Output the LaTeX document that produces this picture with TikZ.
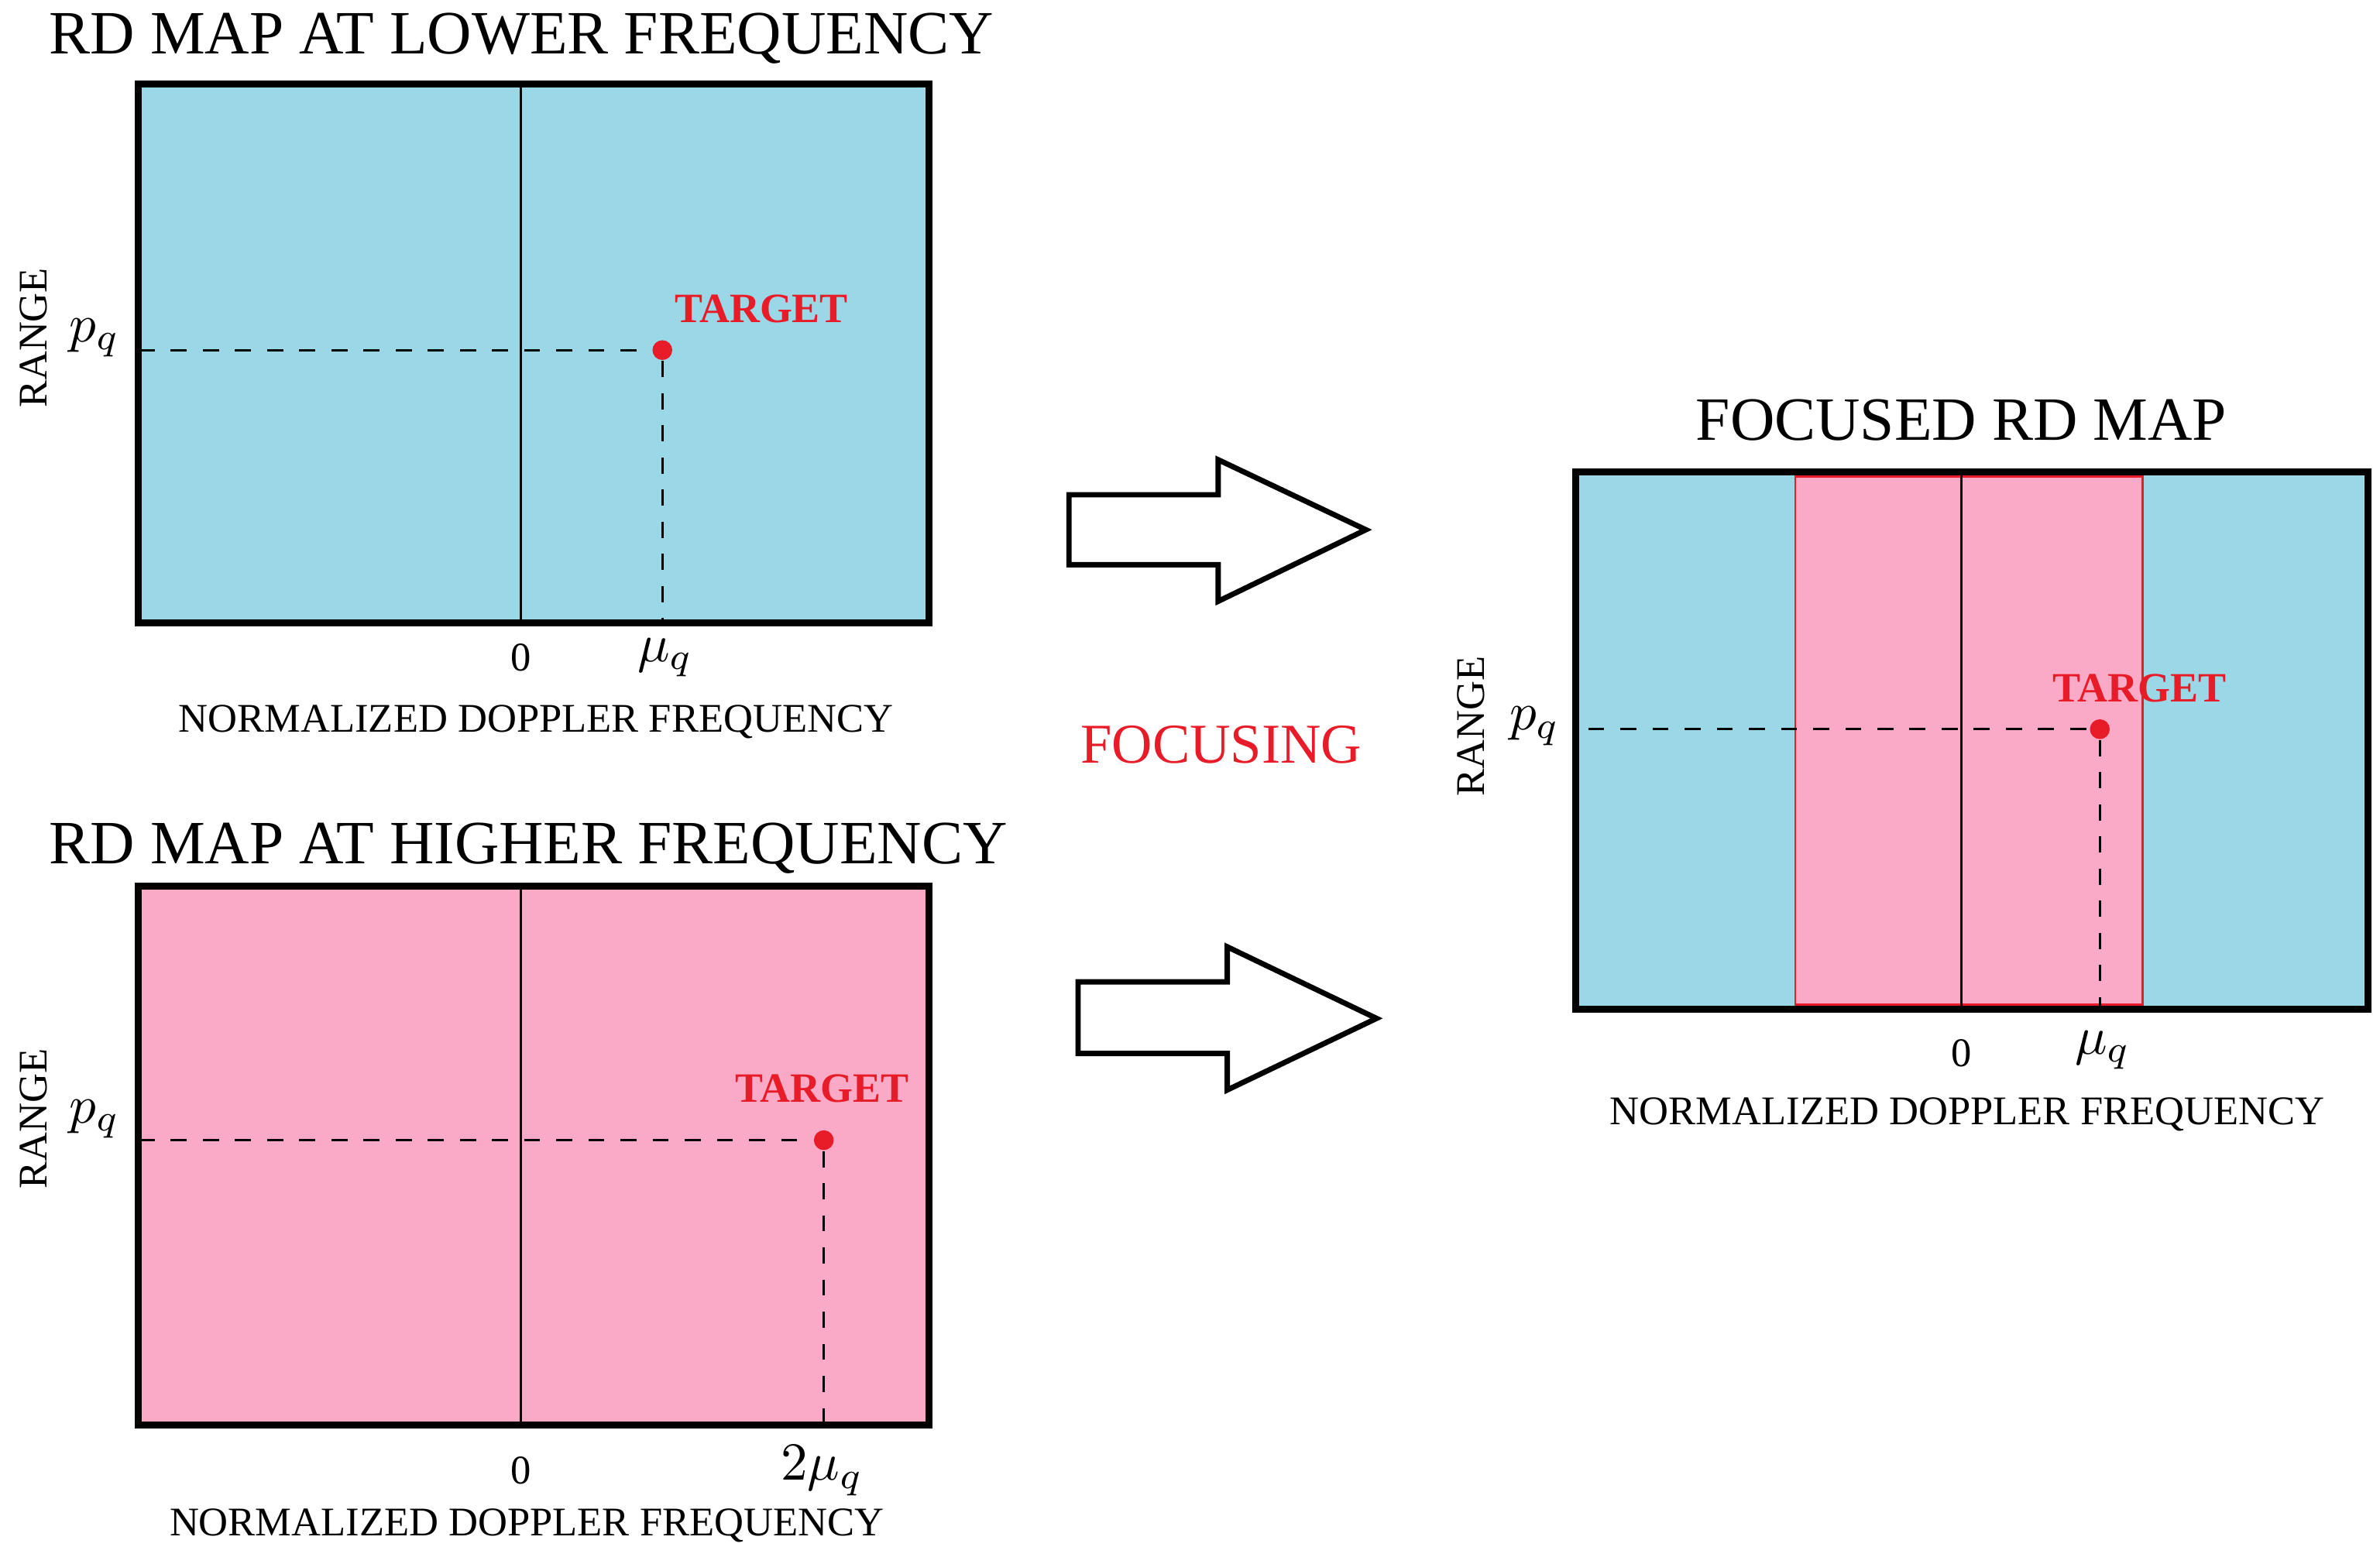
\documentclass[tikz,border=0pt]{standalone}
\usepackage{fontspec}
\setmainfont{Liberation Serif}
\usepackage{amsmath}
\usetikzlibrary{arrows,positioning}
\definecolor{mapblue}{RGB}{154,216,232}
\definecolor{mappink}{RGB}{250,170,198}
\definecolor{tgtred}{RGB}{232,28,40}
\tikzset{
  title/.style = {anchor = west, font = \fontsize{11.5}{13}\selectfont},
  axis/.style = {font = \fontsize{7.6}{9}\selectfont},
  target/.style = {text = tgtred, font = \fontsize{7.8}{9}\selectfont\bfseries},
  dot/.style = {circle, fill = tgtred, inner sep = 0pt, minimum size = 0.13cm},
  guide/.style = {dashed, thin},
  bigarrow/.style = {draw, line width = 1pt, fill = white}
}
\begin{document}
\begin{tikzpicture}[x = 0.01cm, y = -0.01cm]
\useasboundingbox (0, 0) rectangle (1563, 1027);
%\draw [help lines, step = 100] (0, 0) grid (1563, 1027);
% lower frequency
\node [title] (t1) at (20, 25) {RD MAP AT LOWER FREQUENCY};
\draw [line width = 1.3pt, fill = mapblue] (91, 55) rectangle (610, 409);
\draw (342, 55) -- (342, 409);
\node [dot] (d1) at (435, 230) {};
\draw [guide] (91, 230) -- (d1);
\draw [guide] (d1) -- (435, 409);
\node [target] at (500, 203) {TARGET};
\node [axis, rotate = 90] at (22, 222) {RANGE};
\node [font = \fontsize{10}{12}\selectfont] at (62, 222) {$p_q$};
\node [axis] at (342, 432) {0};
\node [font = \fontsize{10}{12}\selectfont] at (437, 432) {$\mu_q$};
\node [axis] at (352, 474) {NORMALIZED DOPPLER FREQUENCY};
% higher frequency
\node [title] (t2) at (20, 557) {RD MAP AT HIGHER FREQUENCY};
\draw [line width = 1.3pt, fill = mappink] (91, 582) rectangle (610, 936);
\draw (342, 582) -- (342, 936);
\node [dot] (d2) at (541, 749) {};
\draw [guide] (91, 749) -- (d2);
\draw [guide] (d2) -- (541, 936);
\node [target] at (540, 715) {TARGET};
\node [axis, rotate = 90] at (22, 735) {RANGE};
\node [font = \fontsize{10}{12}\selectfont] at (62, 735) {$p_q$};
\node [axis] at (342, 966) {0};
\node [font = \fontsize{10}{12}\selectfont] at (540, 966) {$2\mu_q$};
\node [axis] at (346, 1002) {NORMALIZED DOPPLER FREQUENCY};
% focused
\node [title, anchor = center] (t3) at (1288, 276) {FOCUSED RD MAP};
\draw [line width = 1.3pt, fill = mapblue] (1035, 310) rectangle (1555, 663);
\draw [draw = tgtred, fill = mappink] (1179, 313) rectangle (1407, 660);
\draw (1288, 310) -- (1288, 663);
\node [dot] (d3) at (1379, 479) {};
\draw [guide] (1043, 479) -- (d3);
\draw [guide] (d3) -- (1379, 663);
\node [target] at (1405, 452) {TARGET};
\node [axis, rotate = 90] at (966, 477) {RANGE};
\node [font = \fontsize{10}{12}\selectfont] at (1008, 477) {$p_q$};
\node [axis] at (1288, 692) {0};
\node [font = \fontsize{10}{12}\selectfont] at (1381, 690) {$\mu_q$};
\node [axis] at (1292, 732) {NORMALIZED DOPPLER FREQUENCY};
% arrows
\draw [bigarrow] (702, 325) -- (800, 325) -- (800, 302) -- (897, 348)
  -- (800, 395) -- (800, 371) -- (702, 371) -- cycle;
\draw [bigarrow] (708, 645) -- (806, 645) -- (806, 622) -- (904, 669)
  -- (806, 716) -- (806, 692) -- (708, 692) -- cycle;
\node [text = tgtred, font = \fontsize{10.5}{12}\selectfont] (foc) at (802, 489) {FOCUSING};
\end{tikzpicture}
\end{document}
